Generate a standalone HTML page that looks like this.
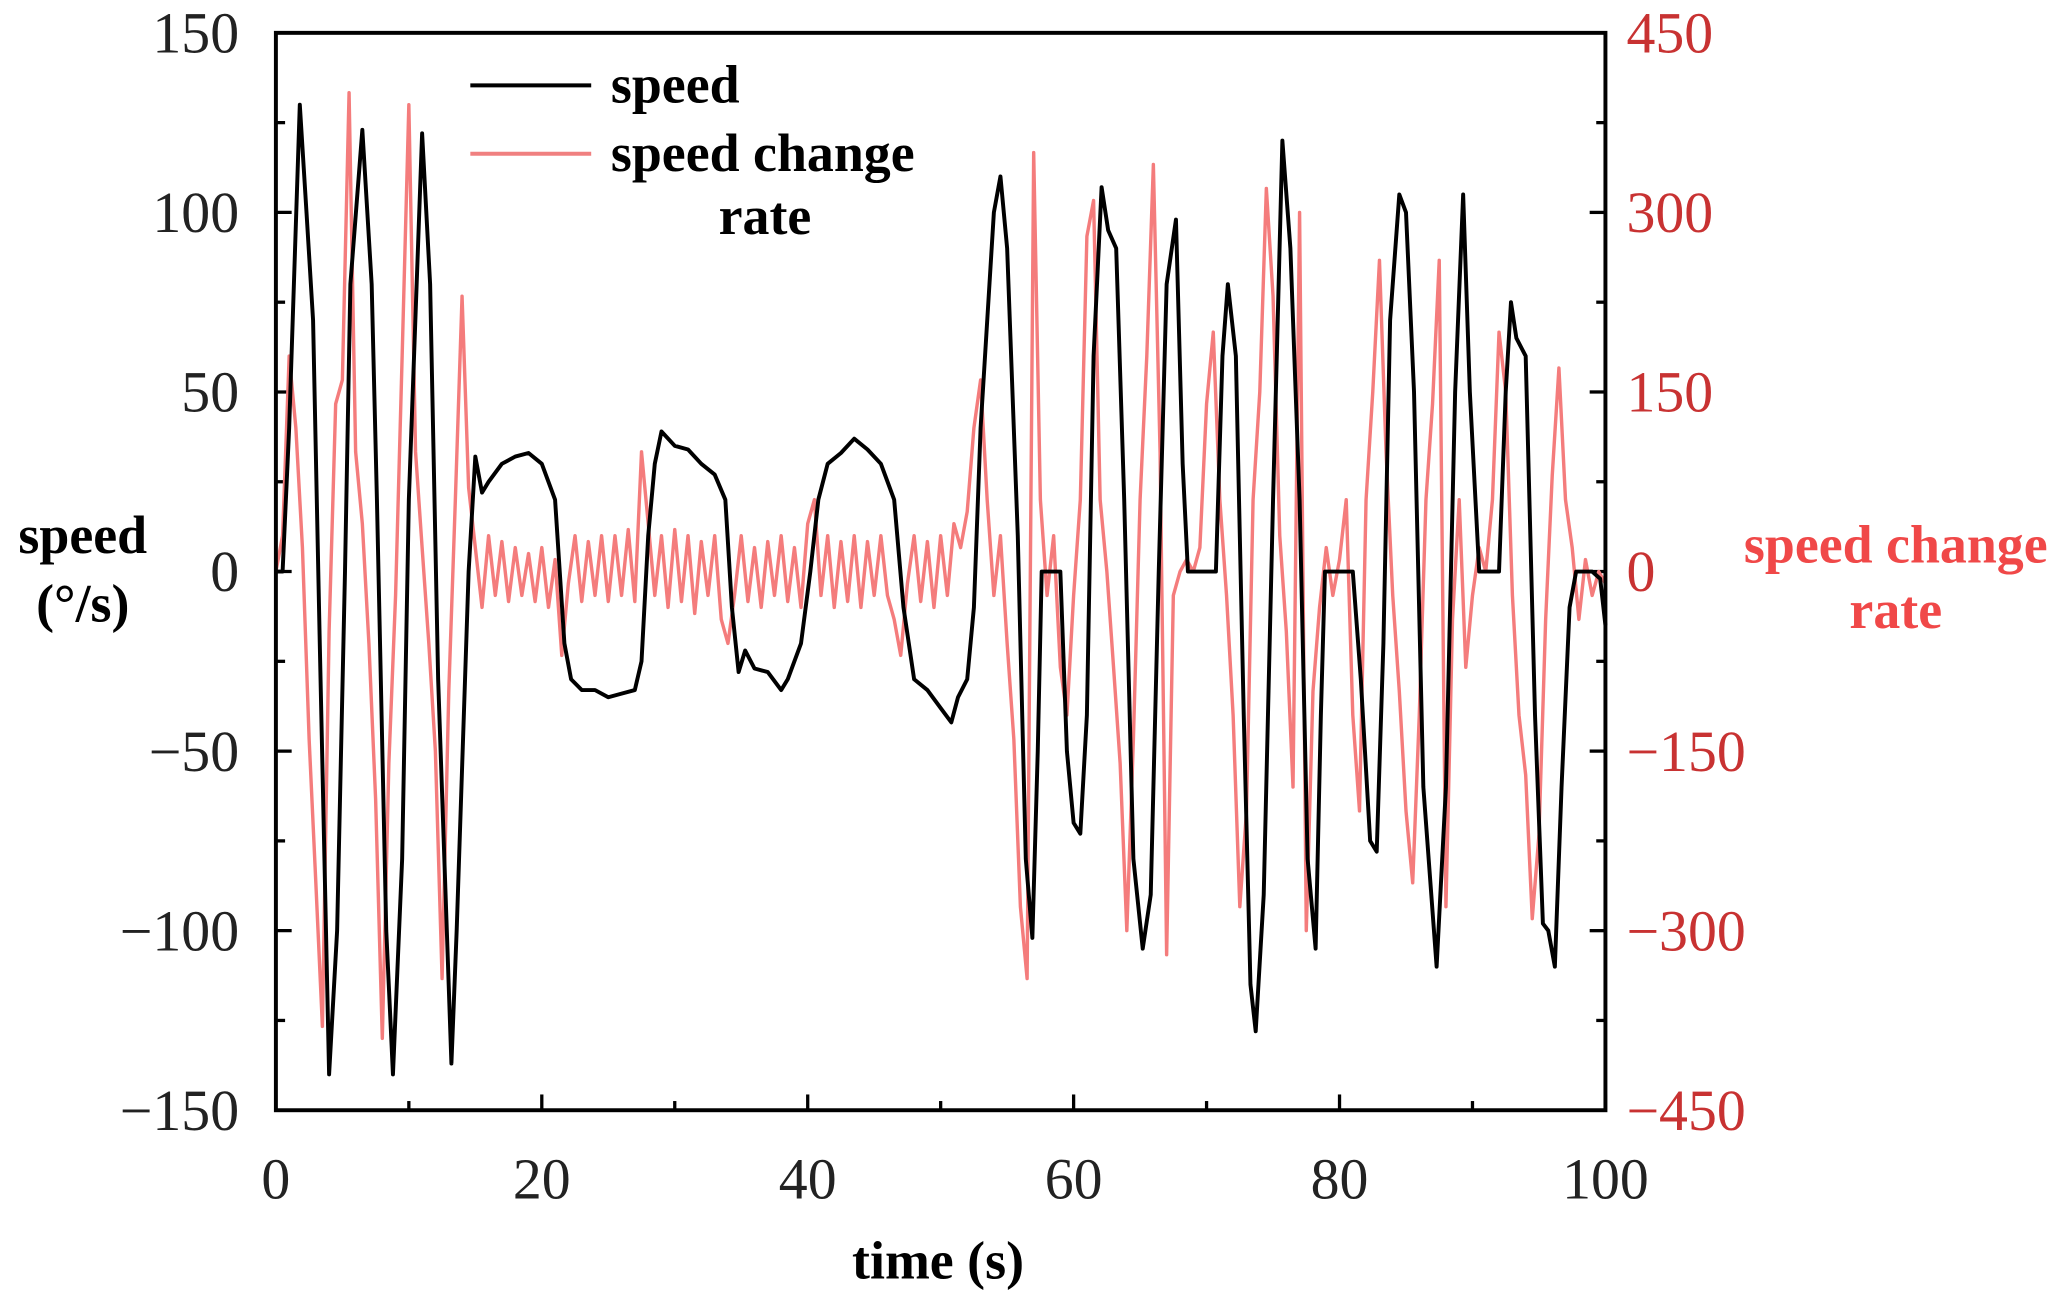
<!DOCTYPE html>
<html><head><meta charset="utf-8"><style>
html,body{margin:0;padding:0;background:#fff}
svg{display:block}
text{font-family:"Liberation Serif",serif}
.tk{font-size:44px;fill:#222}
.tr{font-size:44px;fill:#c83232}
.tt{font-size:41px;font-weight:bold}
</style></head><body>
<svg id="chart" width="2060" height="1306" viewBox="0 0 1568 994" preserveAspectRatio="none" xmlns="http://www.w3.org/2000/svg">
<g id="axes"></g>
<g id="series"></g>
<rect x="210" y="25" width="1012" height="820" fill="none" stroke="#000" stroke-width="3"/>
<g>
<line x1="358" y1="65" x2="450" y2="65" stroke="#000" stroke-width="3"/>
<text class="tt" x="465" y="78">speed</text>
<line x1="358" y1="117" x2="450" y2="117" stroke="#f08080" stroke-width="3"/>
<text class="tt" x="465" y="130">speed change</text>
<text class="tt" x="547" y="178">rate</text>
</g>
<text class="tt" x="63" y="421" text-anchor="middle">speed</text>
<text class="tt" x="63" y="473" text-anchor="middle">(°/s)</text>
<text class="tt" x="1443" y="428" text-anchor="middle" fill="#f04848">speed change</text>
<text class="tt" x="1443" y="478" text-anchor="middle" fill="#f04848">rate</text>
<text class="tt" x="714" y="973" text-anchor="middle">time (s)</text>
</svg>
<script>
const xTicks=[0,20,40,60,80,100];
const yTicks=[150,100,50,0,-50,-100,-150];
const y2Ticks=[450,300,150,0,-150,-300,-450];
const speedT=[0,0.5,1,1.8,2.3,2.8,3.3,4,4.6,5.2,5.6,6.5,7.2,7.6,8.3,8.8,9.5,10,11,11.6,12.2,13.2,13.6,14.5,15,15.5,16,17,18,19,20,21,21.7,22.2,23,24,25,26,27,27.5,28,28.5,29,30,31,32,33,33.8,34.3,34.8,35.3,36,37,38,38.5,39.5,40.2,40.8,41.5,42.5,43.5,44.5,45.5,46.5,47.2,48,49,50,50.8,51.3,52,52.5,53,54,54.5,55,55.8,56.4,56.9,57.3,57.6,59,59.5,60,60.5,61,61.5,62.1,62.6,63.2,63.8,64.5,65.2,65.8,66.4,67,67.7,68.2,68.6,70.7,71.2,71.6,72.2,72.8,73.3,73.7,74.3,75,75.7,76.3,77,77.6,78.2,78.6,78.9,81,81.6,82.3,82.8,83.3,83.8,84.5,85,85.6,86.3,87.3,88,88.7,89.3,89.8,90.5,92,92.5,92.9,93.3,94,94.7,95.3,95.7,96.2,96.7,97.3,97.8,99,99.6,100];
const speedV=[0,0,40,130,100,70,-20,-140,-100,0,80,123,80,20,-100,-140,-80,20,122,80,-30,-137,-100,0,32,22,25,30,32,33,30,20,-20,-30,-33,-33,-35,-34,-33,-25,10,30,39,35,34,30,27,20,-10,-28,-22,-27,-28,-33,-30,-20,0,20,30,33,37,34,30,20,-10,-30,-33,-38,-42,-35,-30,-10,40,100,110,90,10,-80,-102,-50,0,0,-50,-70,-73,-40,60,107,95,90,20,-80,-105,-90,0,80,98,30,0,0,60,80,60,-40,-115,-128,-90,20,120,90,20,-80,-105,-40,0,0,-30,-75,-78,-20,70,105,100,50,-60,-110,-60,50,105,50,0,0,50,75,65,60,-40,-98,-100,-110,-60,-10,0,0,-2,-15];
const rateStep=0.5;
const rateV=[0,30,180,120,20,-140,-260,-380,-50,140,160,400,100,40,-60,-190,-390,-160,-20,180,390,100,20,-60,-150,-340,-100,60,230,70,
20,-30,30,-20,25,-25,20,-20,15,-25,20,-30,10,-70,-10,30,-25,25,-20,30,-25,30,-20,35,-25,100,40,-20,30,-30,35,-25,30,-35,25,-20,30,-40,-60,-20,30,-25,20,-30,25,-20,30,-25,20,-30,40,60,-20,30,-30,25,-25,30,-30,25,-20,30,-20,-40,-70,-10,30,-25,25,-30,30,-20,40,20,50,120,160,60,-20,30,-60,-140,-280,-340,350,60,-20,30,-80,-120,-20,60,280,310,60,0,-80,-160,-300,-140,60,180,340,100,-320,-20,0,10,0,20,140,200,60,-20,-120,-280,-200,60,150,320,230,30,-50,-180,300,-300,-100,-30,20,-20,10,60,-120,-200,60,150,260,100,-20,-100,-200,-260,-120,60,140,260,-280,-40,60,-80,-20,20,0,60,200,150,-20,-120,-170,-290,-220,-40,80,170,60,20,-40,10,-20,0,-10];
const L=210,R=1222,T=25,B=845;
const X=t=>L+(t/100)*(R-L);
const Y=v=>T+(150-v)/300*(B-T);
const Y2=v=>T+(450-v)/900*(B-T);
const NS='http://www.w3.org/2000/svg';
const axes=document.getElementById('axes'),series=document.getElementById('series');
function mk(tag,attrs,parent){const e=document.createElementNS(NS,tag);for(const k in attrs)e.setAttribute(k,attrs[k]);parent.appendChild(e);return e;}
for(let v=0;v<=100;v+=10){const major=v%20===0;
const t=mk('line',{x1:X(v),x2:X(v),y1:B,y2:B-(major?12:7),stroke:'#000','stroke-width':2.5},axes);

}
xTicks.forEach(v=>{const t=mk('text',{x:X(v),y:912,'text-anchor':'middle',class:'tk'},axes);t.textContent=v;

});
for(let v=-150;v<=150;v+=25){const major=v%50===0;
const a=mk('line',{x1:L,x2:L+(major?12:7),y1:Y(v),y2:Y(v),stroke:'#000','stroke-width':2.5},axes);


const b=mk('line',{x1:R,x2:R-(major?12:7),y1:Y(v),y2:Y(v),stroke:'#000','stroke-width':2.5},axes);

}
yTicks.forEach(v=>{const t=mk('text',{x:182,y:Y(v)+15,'text-anchor':'end',class:'tk'},axes);t.textContent=v<0?'\u2212'+(-v):v;

});
y2Ticks.forEach(v=>{const t=mk('text',{x:1238,y:Y2(v)+15,'text-anchor':'start',class:'tr'},axes);t.textContent=v<0?'\u2212'+(-v):v;

});
let d='';rateV.forEach((v,i)=>{d+=(i?'L':'M')+X(i*rateStep).toFixed(1)+' '+Y2(v).toFixed(1);});
const rp=mk('path',{d:d,fill:'none',stroke:'#f47c7c','stroke-width':2.6,'stroke-linejoin':'round'},series);


let d2='';speedT.forEach((t,i)=>{d2+=(i?'L':'M')+X(t).toFixed(1)+' '+Y(speedV[i]).toFixed(1);});
const sp=mk('path',{d:d2,fill:'none',stroke:'#000','stroke-width':3,'stroke-linejoin':'round'},series);


</script>
</body></html>
